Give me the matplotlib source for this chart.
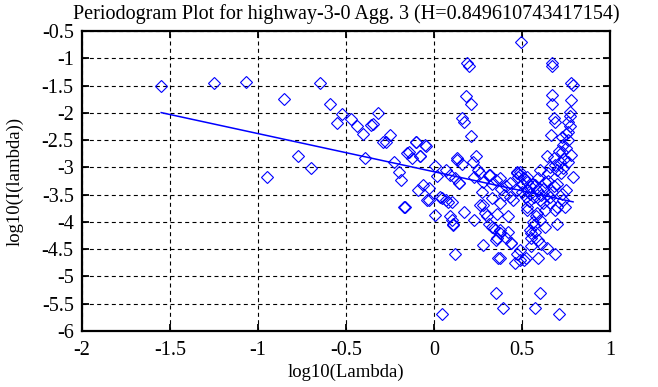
import numpy as np
import matplotlib
matplotlib.use("Agg")
import matplotlib.pyplot as plt

# periodogram points (log10 of frequency, log10 of periodogram)
log_lambda = [
    -1.55, -1.25, -1.07, -0.95, -0.85, -0.77, -0.70, -0.65, -0.59, -0.55,
    -0.52, -0.47, -0.44, -0.405, -0.39, -0.36, -0.345, -0.32, -0.29, -0.27,
    -0.25, -0.227, -0.20, -0.19, -0.17, -0.165, -0.155, -0.14, -0.127, -0.10,
    -0.10, -0.09, -0.08, -0.08, -0.06, -0.05, -0.045, -0.04, -0.03, -0.03,
    0.006, 0.006, 0.015, 0.034, 0.044, 0.044, 0.07, 0.07, 0.08, 0.09,
    0.09, 0.10, 0.10, 0.11, 0.11, 0.12, 0.12, 0.13, 0.13, 0.14,
    0.14, 0.16, 0.16, 0.17, 0.17, 0.18, 0.19, 0.20, 0.21, 0.21,
    0.22, 0.23, 0.23, 0.24, 0.25, 0.26, 0.26, 0.28, 0.28, 0.28,
    0.29, 0.30, 0.31, 0.31, 0.32, 0.33, 0.33, 0.34, 0.35, 0.355,
    0.355, 0.36, 0.365, 0.375, 0.375, 0.375, 0.375, 0.375, 0.39, 0.41,
    0.41, 0.42, 0.43, 0.43, 0.44, 0.44, 0.46, 0.47, 0.47, 0.47,
    0.47, 0.48, 0.49, 0.49, 0.49, 0.49, 0.494, 0.51, 0.51, 0.52,
    0.53, 0.53, 0.53, 0.53, 0.53, 0.545, 0.545, 0.545, 0.55, 0.55,
    0.565, 0.575, 0.575, 0.575, 0.585, 0.585, 0.59, 0.59, 0.60, 0.60,
    0.60, 0.60, 0.61, 0.63, 0.63, 0.64, 0.64, 0.64, 0.65, 0.66,
    0.66, 0.665, 0.67, 0.67, 0.67, 0.67, 0.68, 0.68, 0.68, 0.685,
    0.69, 0.69, 0.70, 0.70, 0.70, 0.71, 0.715, 0.725, 0.725, 0.735,
    0.735, 0.735, 0.745, 0.75, 0.75, 0.76, 0.76, 0.76, 0.77, 0.77,
    0.78, 0.78, 0.78, 0.79, 0.79,
    0.50, 0.50, 0.52, 0.54, 0.56, 0.57, 0.58, 0.59, 0.62, 0.62,
    0.63, 0.65, 0.66, 0.67, 0.69, 0.70, 0.71, 0.72, 0.73, 0.74,
    0.75, 0.76, 0.77, 0.55, 0.57, 0.61, 0.45, 0.40, 0.38, 0.36,
    0.42, 0.33, 0.27,
]
log_periodogram = [
    -1.50, -1.46, -1.44, -3.17, -1.75, -2.79, -3.01, -1.46, -1.83, -2.19,
    -2.02, -2.12, -2.24, -2.38, -2.83, -2.22, -2.20, -2.00, -2.53, -2.53,
    -2.41, -2.90, -3.08, -3.23, -3.72, -3.72, -2.74, -2.71, -2.83, -2.54,
    -2.53, -3.41, -2.80, -2.79, -3.32, -2.59, -2.61, -3.59, -3.37, -3.60,
    -2.97, -3.87, -3.16, -3.54, -5.68, -3.57, -3.60, -3.05, -3.63, -3.90,
    -3.14, -3.63, -3.97, -4.03, -4.06, -4.58, -3.20, -2.86, -2.83, -3.29,
    -3.29, -2.93, -2.10, -2.16, -3.81, -1.69, -1.09, -1.15, -1.84, -2.42,
    -2.90, -3.96, -3.17, -2.79, -3.05, -3.10, -3.69, -3.26, -3.69, -4.42,
    -3.84, -3.90, -3.14, -4.03, -3.14, -3.57, -4.09, -4.12, -5.31, -3.23,
    -4.33, -4.30, -4.67, -3.20, -3.66, -4.15, -4.21, -4.67, -5.58, -3.35,
    -4.30, -4.18, -3.54, -3.29, -4.39, -4.39, -4.76, -3.08, -3.42, -4.58,
    -3.11, -3.17, -3.14, -3.08, -4.70, -4.51, -0.71, -3.20, -4.70, -4.67,
    -3.42, -3.72, -3.26, -3.78, -3.17, -3.48, -4.15, -3.35, -4.20, -4.30,
    -4.00, -3.32, -4.18, -5.58, -3.84, -3.41, -4.33, -4.67, -3.05, -3.97,
    -3.60, -5.31, -3.51, -3.26, -3.78, -2.80, -4.48, -3.48, -3.11, -3.54,
    -3.66, -2.41, -1.09, -1.15, -1.67, -1.84, -2.10, -2.83, -3.35, -2.16,
    -3.78, -4.58, -3.05, -4.03, -3.72, -5.68, -2.90, -2.71, -3.48, -2.59,
    -3.02, -3.60, -3.72, -2.38, -3.41, -2.16, -2.50, -2.90, -1.98, -2.25,
    -1.46, -1.76, -2.77, -1.49, -3.17,
    -3.30, -3.45, -3.55, -3.62, -3.30, -3.55, -3.90, -3.20, -3.40, -3.65,
    -4.10, -3.25, -3.00, -3.45, -2.95, -3.30, -2.70, -3.10, -2.45, -2.85,
    -2.65, -2.35, -2.05, -4.45, -4.05, -4.40, -3.60, -3.50, -3.40, -3.85,
    -3.90, -3.30, -3.45,
]

# least squares fit shown in the reference: slope = 1 - 2H
hurst = 0.849610743417154
fit_intercept = -3.08

x_ticks = [-2, -1.5, -1, -0.5, 0, 0.5, 1]
y_ticks = [-6, -5.5, -5, -4.5, -4, -3.5, -3, -2.5, -2, -1.5, -1, -0.5]

plt.rcParams['font.family'] = ['Liberation Serif', 'DejaVu Serif']

fig = plt.figure(figsize=(6.58, 3.87), dpi=100)
ax = fig.add_axes([82/658, 1 - 331/387, (610-82)/658, (331-31)/387])

x = np.array(log_lambda)
y = np.array(log_periodogram)
ax.plot(x, y, linestyle='none', marker='D', markersize=6.6,
        markerfacecolor='none', markeredgecolor='#0000ff', markeredgewidth=0.8)

slope = 1 - 2*hurst
fx = np.array([x.min(), x.max()])
ax.plot(fx, fit_intercept + slope*fx, color='#0000ff', linewidth=1.1)

ax.set_xlim(-2, 1)
ax.set_ylim(-6, -0.5)
ax.set_xticks(x_ticks)
ax.set_yticks(y_ticks)
ax.set_xticklabels([f'{v:g}' for v in x_ticks])
ax.set_yticklabels([f'{v:g}' for v in y_ticks])
ax.grid(True, color='black', linestyle=(0, (3.6, 3.0)), linewidth=0.8)
ax.tick_params(direction='in', length=5, width=1.3, top=True, right=True,
               labelsize=14.5)
ax.tick_params(axis='x', pad=7)
ax.tick_params(axis='y', pad=6)
for s in ax.spines.values():
    s.set_linewidth(1.6)

ax.set_title('Periodogram Plot for highway-3-0 Agg. 3 (H=0.849610743417154)',
             fontsize=14.5, pad=8.5)
ax.set_xlabel('log10(Lambda)', fontsize=13.5, labelpad=3)
ax.set_ylabel('log10(I(lambda))', fontsize=13.5, labelpad=13)

fig.savefig('out.png', dpi=100)
